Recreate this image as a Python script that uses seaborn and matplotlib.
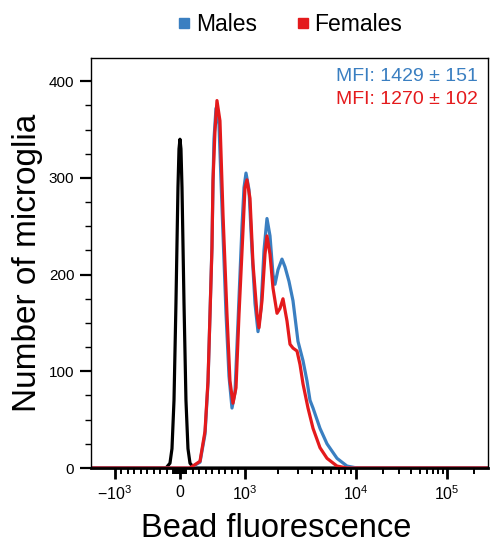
import numpy as np
import pandas as pd
import matplotlib
matplotlib.use("Agg")
import matplotlib.pyplot as plt
import seaborn as sns
from matplotlib.lines import Line2D

# bead fluorescence (data units) and counts
unstained_x = [-1644, -215, -154, -123, -92, -62, -31, -15, 0, 15, 31, 62, 92, 123, 154, 215, 282000]
unstained_y = [0, 0, 5, 20, 70, 170, 290, 330, 340, 330, 290, 170, 70, 20, 5, 0, 0]

males_x = [-1644, 154, 308, 385, 431, 462, 492, 508, 523, 554, 600, 646, 708, 754, 800, 846,
           892, 954, 985, 1021, 1086, 1156, 1231, 1310, 1394, 1483, 1578, 1680, 1788, 1863,
           1983, 2154, 2293, 2491, 2706, 3002, 3331, 3619, 3852, 4100, 4453, 4738, 5480,
           6743, 8296, 10250, 282000]
males_y = [0, 0, 6, 35, 88, 160, 230, 295, 340, 372, 355, 270, 160, 95, 62, 78,
           150, 250, 290, 305, 288, 225, 170, 141, 165, 225, 258, 240, 200, 190,
           205, 216, 208, 193, 173, 131, 111, 90, 70, 62, 50, 41, 25,
           10, 2, 0, 0]

females_x = [-1644, 154, 308, 385, 431, 462, 492, 508, 538, 569, 615, 662, 723, 769, 815, 862,
             908, 969, 1000, 1042, 1109, 1181, 1283, 1337, 1423, 1514, 1578, 1680, 1788,
             1943, 2067, 2199, 2390, 2543, 2706, 2941, 3130, 3331, 3695, 4100, 4738, 5480,
             6743, 8296, 10250, 282000]
females_y = [0, 0, 7, 38, 90, 159, 227, 297, 348, 380, 359, 262, 159, 90, 67, 83,
             159, 245, 290, 298, 279, 211, 159, 145, 173, 221, 240, 221, 186,
             160, 165, 175, 152, 128, 124, 121, 107, 87, 62, 41, 21, 10,
             2, 0, 0, 0]

mfi_labels = ["MFI: 1429 \u00b1 151", "MFI: 1270 \u00b1 102"]
group_names = ["Males", "Females"]
colors = {"Unstained": "black", "Males": "#3a7fc1", "Females": "#e41a1c"}

major_ticks = [-1000, 0, 1000, 10000, 100000]
major_labels = [r"$\mathregular{-10^3}$", "0", r"$\mathregular{10^3}$",
                r"$\mathregular{10^4}$", r"$\mathregular{10^5}$"]

# biexponential-like display axis: linear within +-1000, log outside
U_ANCH = [-3, -2, -1, 0, 1, 2, 3, 4, 5]
P_ANCH = [-107, 4, 115, 180, 245, 356, 447, 538, 629]


def to_u(x):
    x = np.asarray(x, dtype=float)
    a = np.abs(x)
    return np.where(a <= 1000, x / 1000, np.sign(x) * (1 + np.log10(np.maximum(a, 1000) / 1000)))


def from_u(u):
    u = np.asarray(u, dtype=float)
    a = np.abs(u)
    return np.where(a <= 1, u * 1000, np.sign(u) * 1000 * 10 ** (np.maximum(a, 1) - 1))


def fwd(x):
    return np.interp(to_u(x), U_ANCH, P_ANCH)


def inv(p):
    return from_u(np.interp(p, P_ANCH, U_ANCH))


df = pd.concat([
    pd.DataFrame({"x": unstained_x, "count": unstained_y, "group": "Unstained"}),
    pd.DataFrame({"x": males_x, "count": males_y, "group": "Males"}),
    pd.DataFrame({"x": females_x, "count": females_y, "group": "Females"}),
])

sns.set_style("ticks")
plt.rcParams["font.family"] = ["Liberation Sans", "DejaVu Sans"]
plt.rcParams["mathtext.fontset"] = "custom"
plt.rcParams["mathtext.rm"] = "Liberation Sans"
plt.rcParams["text.color"] = "black"
plt.rcParams["axes.labelcolor"] = "black"
plt.rcParams["xtick.color"] = "black"
plt.rcParams["ytick.color"] = "black"
plt.rcParams["axes.edgecolor"] = "black"

fig = plt.figure(figsize=(4.9, 5.51), dpi=100)
ax = fig.add_axes([91 / 490, 83 / 551, 397 / 490, 410 / 551])

for g in ["Unstained", "Males", "Females"]:
    sns.lineplot(data=df[df["group"] == g], x="x", y="count", color=colors[g],
                 linewidth=2.3, estimator=None, sort=False, ax=ax)

ax.set_xscale("function", functions=(fwd, inv))
ax.set_xlim(-1644, 282000)
ax.set_ylim(0, 424)

ax.set_xticks(major_ticks)
ax.set_xticklabels(major_labels, fontsize=11.5)
minor = []
for s in [-1, 1]:
    minor += [s * v for v in range(10, 100, 10)]
    minor += [s * v for v in range(100, 1000, 100)]
minor += list(range(2000, 10000, 1000)) + list(range(20000, 100000, 10000)) + [200000]
ax.set_xticks(minor, minor=True)

ax.set_yticks([0, 100, 200, 300, 400])
ax.set_yticks(np.arange(25, 424, 25), minor=True)
ax.tick_params(axis="y", labelsize=11, length=8, width=1.6, pad=4)
ax.tick_params(axis="y", which="minor", length=4, width=1.0)
ax.tick_params(axis="x", length=8, width=2.0, pad=4)
ax.tick_params(axis="x", which="minor", length=4, width=1.4)

for side in ["top", "right", "left"]:
    ax.spines[side].set_linewidth(1.0)
ax.spines["bottom"].set_linewidth(2.0)

ax.set_xlabel("Bead fluorescence", fontsize=23.5, labelpad=4)
ax.xaxis.set_label_coords((276 - 91) / 397, -0.11)
ax.set_ylabel("Number of microglia", fontsize=24, labelpad=4)

ax.text(0.975, 0.955, mfi_labels[0], transform=ax.transAxes, ha="right", va="center",
        fontsize=14, color=colors["Males"])
ax.text(0.975, 0.900, mfi_labels[1], transform=ax.transAxes, ha="right", va="center",
        fontsize=14, color=colors["Females"])

handles = [Line2D([], [], marker="s", linestyle="", markersize=7, color=colors[n]) for n in group_names]
fig.legend(handles, group_names, loc="center", bbox_to_anchor=(0.584, 0.955), ncol=2,
           frameon=False, fontsize=16.5, handletextpad=-0.1, columnspacing=1.4,
           handlelength=1.2)

fig.savefig("out.png", dpi=100)
